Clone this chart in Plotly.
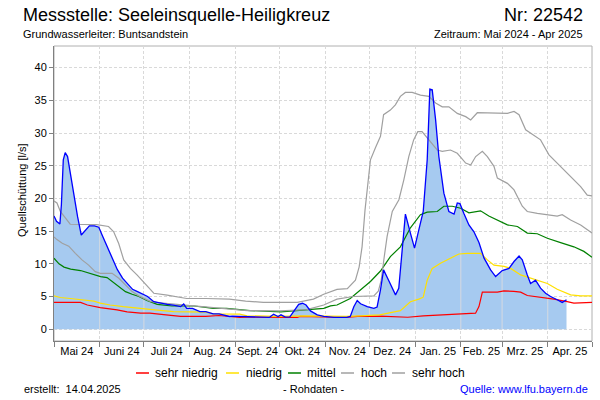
import numpy as np
import pandas as pd
import plotly.graph_objects as go

# ---------------- data ----------------
START = "2024-05-01"
END = "2025-05-01"
month_labels = ["Mai 24", "Juni 24", "Juli 24", "Aug. 24", "Sept. 24", "Okt. 24",
                "Nov. 24", "Dez. 24", "Jan. 25", "Feb. 25", "Mrz. 25", "Apr. 25"]

# Quellschüttung (Rohdaten), day offset from START
q_days = [0, 1.7, 4, 5, 6.3, 7.6, 9.2, 11.4, 13.7, 16, 18.5, 20.5, 24, 27.4, 30.4, 33, 36.5,
          39.8, 43, 46.5, 49.9, 53.3, 56.7, 60, 63.5, 67.7, 72, 76.8, 81, 85.9, 88, 90, 94,
          99, 103, 108, 112, 119, 121, 131, 140, 146, 149, 152, 154, 157, 160, 162.7, 166,
          168.6, 171, 174, 178.6, 183, 190, 198.6, 201, 203.4, 205.7, 208, 212.5, 217, 219.2,
          221.5, 223.6, 227, 231.7, 233.9, 236.2, 238.4, 241.8, 244.6, 247.5, 250.5, 253.2,
          255, 256.6, 258.9, 261.1, 264.5, 267.9, 271.4, 273.6, 275.4, 278.1, 281.5, 284.9,
          288.3, 291.7, 296.2, 299.6, 304.1, 308.7, 312.1, 315.5, 317.7, 321.1, 323.3, 326.7,
          330.1, 333.5, 336.9, 341.4, 344.8, 347.7]
q_vals = [17.3, 16.5, 16.1, 19.0, 25.9, 27.0, 26.4, 23.3, 20.3, 17.2, 14.4, 14.9, 15.8, 15.8,
          15.6, 14.2, 12.4, 10.6, 9.1, 7.8, 6.9, 6.1, 5.75, 5.35, 5.0, 4.2, 4.0, 3.8, 3.7, 3.45,
          3.85, 3.2, 3.2, 2.7, 2.7, 2.35, 2.35, 1.95, 2.0, 1.95, 1.8, 1.8, 2.3, 1.95, 2.2, 1.85,
          1.9, 2.8, 3.8, 3.97, 3.7, 2.8, 2.2, 1.95, 1.8, 1.8, 1.95, 3.45, 4.4, 3.9, 3.45, 3.2,
          3.4, 6.0, 9.07, 7.5, 5.25, 6.27, 11.6, 17.6, 14.7, 12.4, 15.2, 18.0, 25.9, 36.7, 36.6,
          32.0, 26.4, 20.8, 18.0, 17.6, 19.3, 19.2, 17.7, 15.95, 14.9, 13.25, 10.9, 9.07, 8.05,
          8.97, 9.3, 10.35, 11.2, 10.6, 8.3, 7.0, 7.5, 6.27, 5.5, 5.0, 4.5, 4.1, 4.5]

sh_days = [0, 2, 4.3, 7.7, 11, 29, 37, 40.5, 43.9, 47.3, 51.8, 56.3, 60.8, 65, 67.7, 76.8, 90,
           103, 119, 130, 142, 165, 176, 183, 192, 199, 204.5, 207, 209, 211, 212.5, 214.7, 218,
           221.5, 223.6, 228.2, 231.6, 235, 238.4, 243, 248.6, 254.3, 258.9, 263.4, 267.9,
           273.6, 279.3, 282.7, 287.2, 294, 300.8, 307.6, 312.1, 315.5, 320, 323.3, 330.1,
           335.8, 343.7, 350.5, 357.3, 361.8, 365]
sh_vals = [19.6, 19.3, 18.0, 17.0, 16.05, 16.0, 15.7, 14.9, 13.1, 10.6, 9.3, 8.3, 7.2, 6.1, 5.5,
           5.2, 4.7, 4.7, 4.6, 4.3, 4.1, 4.1, 4.6, 5.35, 6.1, 6.2, 7.5, 9.5, 12.6, 18.2, 21.3,
           25.9, 27.7, 29.5, 32.8, 33.5, 34.3, 35.6, 36.2, 36.2, 35.8, 35.6, 34.6, 34.0, 34.0,
           33.0, 32.5, 32.0, 33.1, 33.1, 33.0, 33.0, 33.3, 32.8, 30.5, 30.0, 28.95, 26.65, 24.9,
           23.3, 21.8, 20.5, 20.4]

h_days = [0, 2, 5.6, 10, 14.5, 19, 23.5, 28, 31.4, 39.4, 44, 48.5, 53, 57.6, 62, 65, 70, 81, 92,
          103, 117, 126, 131, 153.7, 171.5, 183, 192, 203, 212, 217, 220, 222, 224, 226, 229.5,
          234, 237.3, 240.7, 244, 246.8, 249.7, 253.2, 256.6, 260, 263.4, 269, 273.6, 279.3,
          282.7, 286.1, 290.6, 294, 298.5, 300.8, 307.6, 312.1, 317.7, 321.1, 327.9, 334.7,
          341.4, 344.8, 350.5, 357.3, 365]
h_vals = [14.1, 13.7, 13.15, 12.7, 11.6, 10.6, 9.8, 8.8, 8.55, 8.55, 7.8, 6.8, 5.75, 5.1, 4.6,
          4.3, 4.07, 3.85, 3.7, 3.45, 3.2, 3.05, 2.85, 2.8, 3.0, 3.7, 4.6, 5.0, 5.1, 5.1, 5.8, 7.5,
          11.0, 14.2, 18.0, 19.8, 22.8, 26.4, 28.95, 30.2, 30.2, 29.2, 28.2, 27.4, 27.2, 27.4,
          26.9, 25.4, 25.1, 26.4, 27.2, 26.4, 24.9, 23.1, 22.3, 21.3, 18.8, 18.0, 17.7, 17.5,
          17.3, 17.5, 16.7, 15.95, 14.7]

m_days = [0, 3.4, 6.8, 11.3, 18, 22.6, 27, 31.6, 36, 39.4, 44, 48.5, 53, 57.6, 63, 70, 80, 95,
          103, 108, 117, 126, 133, 154, 174, 183, 187.6, 192, 201, 208, 214.7, 221.5, 228.2,
          235, 241.8, 248.6, 253.2, 260, 264.5, 270.2, 275.9, 281.5, 289.4, 295, 300.8, 307.6,
          314.4, 321.1, 327.9, 334.7, 343.7, 352.7, 359.5, 365]
m_vals = [10.85, 10.0, 9.5, 9.2, 8.97, 8.65, 8.3, 8.05, 7.9, 7.3, 6.5, 5.75, 5.35, 5.0, 4.4, 3.8,
          3.55, 3.55, 3.35, 3.2, 3.2, 3.0, 2.85, 2.65, 3.0, 3.2, 3.57, 3.7, 4.7, 6.0, 7.3, 8.9,
          11.1, 12.6, 15.5, 17.5, 17.9, 18.0, 18.8, 18.8, 18.5, 17.8, 18.1, 17.3, 16.7, 15.95,
          15.7, 14.7, 14.6, 13.9, 13.25, 12.6, 11.9, 11.0]

n_days = [0, 4.3, 11, 20, 27, 31.4, 38, 47, 56, 65, 81, 103, 108, 126, 131, 153, 171, 198, 208,
          221, 235, 241.8, 247.5, 250.5, 253.2, 256.6, 262.2, 269, 274.7, 280.4, 289.4, 294,
          298.5, 305.3, 309.8, 316.6, 323.3, 327.9, 334.7, 341.4, 350.5, 357.3, 365]
n_vals = [5.1, 4.85, 4.7, 4.5, 4.3, 4.0, 3.7, 3.45, 3.2, 3.05, 2.7, 2.6, 2.35, 2.3, 2.05, 1.95,
          2.05, 1.95, 2.04, 2.2, 2.85, 4.2, 4.6, 4.9, 7.5, 9.3, 10.1, 10.9, 11.5, 11.6, 11.6,
          10.6, 9.8, 9.6, 9.3, 8.3, 7.8, 7.5, 7.0, 6.1, 5.25, 5.1, 5.1]

sn_days = [0, 18, 22.6, 31.4, 42.8, 49.6, 58.7, 65, 76, 85.9, 103, 112, 126, 131, 165, 167, 198,
           206, 221, 240, 250.5, 266.6, 270, 286, 288.3, 290.6, 300.8, 305.3, 312, 316.6, 321.1,
           330.1, 339.2, 348.2, 352.7, 365]
sn_vals = [4.1, 4.1, 3.7, 3.3, 2.95, 2.65, 2.45, 2.45, 2.2, 1.95, 1.95, 2.1, 1.8, 1.85, 1.8, 1.95,
           1.8, 1.95, 2.0, 1.83, 2.04, 2.2, 2.34, 2.45, 3.47, 5.66, 5.66, 5.86, 5.8, 5.66, 5.15,
           4.9, 4.6, 4.23, 3.98, 4.1]

# ---------------- helpers ----------------
W, H = 600, 400
ML, MR, MT, MB = 54, 8, 46, 59
PW, PH = W - ML - MR, H - MT - MB
start = pd.Timestamp(START)


def to_dates(days):
    return start + pd.to_timedelta(np.asarray(days, dtype=float), unit="D")


def px_x(x):
    return (x - ML) / PW


def px_y(y):
    return (H - MB - y) / PH


FONT = "Liberation Sans, Arial, sans-serif"
GRID = "#D9D9D9"
GRIDDASH = "3px,2px"

month_starts = pd.date_range(START, END, freq="MS")
mid_months = [a + (b - a) / 2 for a, b in zip(month_starts[:-1], month_starts[1:])]

fig = go.Figure()

# filled area of measured discharge
q_dates = to_dates(q_days)
fig.add_trace(go.Scatter(x=q_dates, y=q_vals, mode="lines", fill="tozeroy",
                         fillcolor="#A6CAF0", line=dict(width=0), showlegend=False,
                         hoverinfo="skip"))

# solid month separators inside the filled area
q_num = np.asarray(q_days, dtype=float)
sep_x, sep_y = [], []
for ms in month_starts[1:-1]:
    d = (ms - start).days
    if d <= q_num[-1]:
        v = float(np.interp(d, q_num, q_vals))
        sep_x += [ms, ms, None]
        sep_y += [0, v, None]
fig.add_trace(go.Scatter(x=sep_x, y=sep_y, mode="lines", line=dict(color="#D6DAE0", width=1),
                         showlegend=False, hoverinfo="skip"))

series = [
    ("sehr niedrig", sn_days, sn_vals, "#FF0000"),
    ("niedrig", n_days, n_vals, "#FFE000"),
    ("mittel", m_days, m_vals, "#008000"),
    ("hoch", h_days, h_vals, "#A0A0A0"),
    ("sehr hoch", sh_days, sh_vals, "#A0A0A0"),
]
for name, dd, vv, col in series:
    fig.add_trace(go.Scatter(x=to_dates(dd), y=vv, mode="lines", name=name, showlegend=False,
                             line=dict(color=col, width=1.2)))

fig.add_trace(go.Scatter(x=q_dates, y=q_vals, mode="lines", line=dict(color="#0000FF", width=1.3),
                         showlegend=False, name="Quellschüttung"))

fig.update_layout(
    width=W, height=H,
    margin=dict(l=ML, r=MR, t=MT, b=MB),
    paper_bgcolor="white", plot_bgcolor="white",
    font=dict(family=FONT, size=11, color="#000000"),
    showlegend=False,
)

fig.update_xaxes(
    type="date",
    range=[START, END],
    tickmode="array", tickvals=mid_months, ticktext=month_labels,
    ticks="", showgrid=False, zeroline=False,
    showline=True, linecolor="#808080", linewidth=1,
    tickfont=dict(size=11, family=FONT, color="#000000"),
    minor=dict(tickmode="array", tickvals=list(month_starts), ticks="outside", ticklen=5,
               tickcolor="#808080", showgrid=True, gridcolor=GRID, griddash=GRIDDASH,
               gridwidth=1),
)
fig.update_yaxes(
    range=[-1.8, 43.3], tick0=0, dtick=5, ticks="outside", ticklen=4, tickcolor="#808080",
    showgrid=True, gridcolor=GRID, griddash=GRIDDASH, zeroline=False,
    showline=True, linecolor="#808080", linewidth=1,
    tickfont=dict(size=11, family=FONT, color="#000000"),
)

# frame top/right
fig.add_shape(type="rect", xref="paper", yref="paper", x0=0, x1=1, y0=0, y1=1,
              line=dict(color="#B0B0B0", width=1), layer="below")

# legend: coloured sample line + name for each reference series (pixel positions of layout)
leg_line_x = [136, 226, 288, 341, 392]
leg_text_x = [153, 244, 305, 359, 410]
LEG_Y = 373
for (name, _, _, col), lx, tx in zip(series, leg_line_x, leg_text_x):
    fig.add_shape(type="line", xref="paper", yref="paper",
                  x0=px_x(lx), x1=px_x(lx + 13), y0=px_y(LEG_Y), y1=px_y(LEG_Y),
                  line=dict(color=col, width=1.5))
    fig.add_annotation(xref="paper", yref="paper", showarrow=False, text=name,
                       x=px_x(tx), y=px_y(LEG_Y), xanchor="left", yanchor="middle",
                       font=dict(size=12, family=FONT))

ann = [
    dict(text="Messstelle: Seeleinsquelle-Heiligkreuz", x=px_x(21), y=px_y(15), xanchor="left",
         yanchor="middle", font=dict(size=18, family=FONT)),
    dict(text="Nr: 22542", x=px_x(585), y=px_y(15), xanchor="right", yanchor="middle",
         font=dict(size=18, family=FONT)),
    dict(text="Grundwasserleiter: Buntsandstein", x=px_x(21), y=px_y(34), xanchor="left",
         yanchor="middle", font=dict(size=11, family=FONT)),
    dict(text="Zeitraum: Mai 2024 - Apr 2025", x=px_x(585), y=px_y(34), xanchor="right",
         yanchor="middle", font=dict(size=11, family=FONT)),
    dict(text="Quellschüttung [l/s]", x=px_x(22), y=px_y(190), xanchor="center",
         yanchor="middle", textangle=-90, font=dict(size=11, family=FONT)),
    dict(text="erstellt:  14.04.2025", x=px_x(22), y=px_y(389), xanchor="left",
         yanchor="middle", font=dict(size=11, family=FONT)),
    dict(text="- Rohdaten -", x=px_x(313), y=px_y(389), xanchor="center", yanchor="middle",
         font=dict(size=11, family=FONT)),
    dict(text="Quelle: www.lfu.bayern.de", x=px_x(590), y=px_y(389), xanchor="right",
         yanchor="middle", font=dict(size=11, family=FONT, color="#0000FF")),
]
for a in ann:
    fig.add_annotation(xref="paper", yref="paper", showarrow=False, **a)

fig.write_html("out.html", config={"displayModeBar": False},
               post_script="document.body.style.margin='0';")
